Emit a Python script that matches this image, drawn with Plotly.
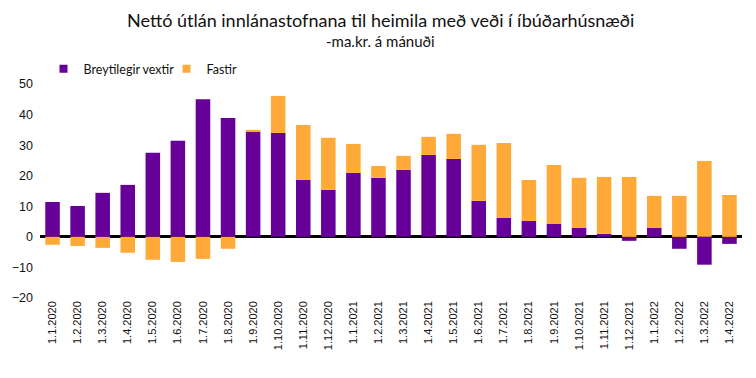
import plotly.graph_objects as go

categories = ["1.1.2020","1.2.2020","1.3.2020","1.4.2020","1.5.2020","1.6.2020","1.7.2020","1.8.2020",
              "1.9.2020","1.10.2020","1.11.2020","1.12.2020","1.1.2021","1.2.2021","1.3.2021","1.4.2021",
              "1.5.2021","1.6.2021","1.7.2021","1.8.2021","1.9.2021","1.10.2021","1.11.2021","1.12.2021",
              "1.1.2022","1.2.2022","1.3.2022","1.4.2022"]
breytilegir = [11.4, 10.1, 14.4, 17.0, 27.5, 31.4, 45.0, 38.9, 34.3, 34.0, 18.6, 15.4, 20.9, 19.3, 21.9, 26.8,
               25.5, 11.8, 6.2, 5.2, 4.2, 2.9, 1.0, -1.3, 2.9, -3.9, -9.1, -2.3]
fastir = [-2.6, -3.0, -3.6, -5.2, -7.5, -8.2, -7.2, -3.9, 0.7, 12.1, 18.0, 17.0, 9.5, 3.9, 4.6, 5.9,
          8.2, 18.3, 24.5, 13.4, 19.3, 16.4, 18.6, 19.6, 10.5, 13.4, 24.8, 13.7]
y_ticks = [-20, -10, 0, 10, 20, 30, 40, 50]
series_names = ["Breytilegir vextir", "Fastir"]

PURPLE = "#660099"
ORANGE = "#FFAA38"

fig = go.Figure()
fig.add_trace(go.Bar(x=categories, y=breytilegir, name=series_names[0], marker_color=PURPLE,
                     marker_line_width=0, showlegend=False))
fig.add_trace(go.Bar(x=categories, y=fastir, name=series_names[1], marker_color=ORANGE,
                     marker_line_width=0, showlegend=False))
# legend entries with small square symbols
for nm, col in zip(series_names, [PURPLE, ORANGE]):
    fig.add_trace(go.Scatter(x=[None], y=[None], mode="markers", name=nm,
                             marker=dict(symbol="square", size=8, color=col)))

fig.update_layout(
    barmode="relative",
    bargap=0.42,
    width=756, height=378,
    margin=dict(l=40, r=14, t=84, b=80),
    paper_bgcolor="white", plot_bgcolor="white",
    font=dict(family="Liberation Sans, Arial, sans-serif", size=12, color="#222222"),
    showlegend=True,
    legend=dict(orientation="h", x=0.005, xanchor="left", y=1.0, yanchor="bottom",
                font=dict(family="Lato, sans-serif", size=12.5, color="#111111"),
                itemwidth=30, entrywidth=78, traceorder="normal", bgcolor="rgba(0,0,0,0)"),
)
fig.add_annotation(text="Nettó útlán innlánastofnana til heimila með veði í íbúðarhúsnæði",
                   xref="paper", yref="paper", x=0.485, y=1.0, yanchor="middle", yshift=64, showarrow=False,
                   font=dict(family="Lato, sans-serif", size=18, color="#111111"))
fig.add_annotation(text="-ma.kr. á mánuði",
                   xref="paper", yref="paper", x=0.485, y=1.0, yanchor="middle", yshift=43, showarrow=False,
                   font=dict(family="Lato, sans-serif", size=15, color="#111111"))

fig.update_xaxes(type="category", tickangle=-90, showgrid=False, showline=False, ticks="",
                 tickfont=dict(size=11, color="#111111"))
fig.update_yaxes(range=[-20, 50], tickvals=y_ticks, showgrid=False, zeroline=True,
                 zerolinecolor="black", zerolinewidth=2.5, showline=False, ticks="",
                 ticklabelstandoff=6,
                 tickfont=dict(size=12.5, color="#111111"))

fig.write_html("out.html")
